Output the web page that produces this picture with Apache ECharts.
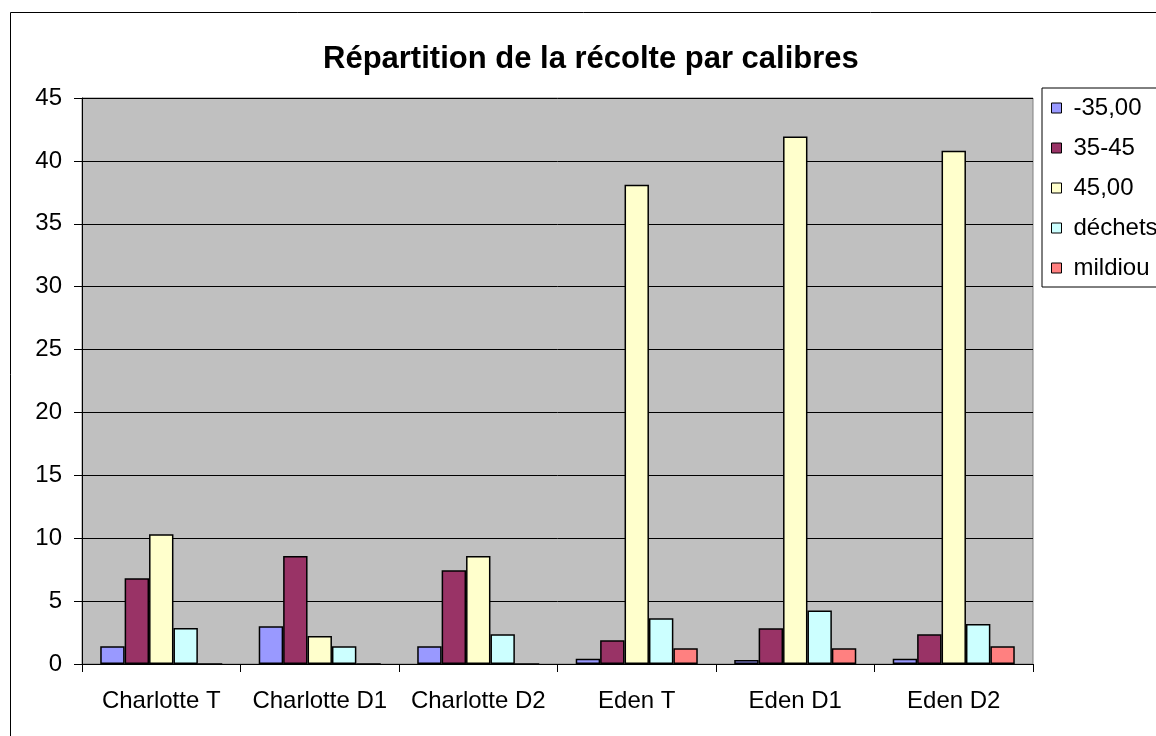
<!DOCTYPE html>
<html lang="fr">
<head>
    <meta charset="utf-8">
    <title>Répartition de la récolte par calibres</title>
    <script src="https://cdn.jsdelivr.net/npm/echarts@6/dist/echarts.min.js"></script>
    <style>
        html, body { margin: 0; padding: 0; background: #fff; }
        #main { width: 1156px; height: 736px; }
    </style>
</head>
<body>
    <div id="main"></div>
    <script>
        // donnees
        var categories = ['Charlotte T', 'Charlotte D1', 'Charlotte D2', 'Eden T', 'Eden D1', 'Eden D2'];
        var seriesNames = ['-35,00', '35-45', '45,00', 'déchets', 'mildiou'];
        var moins35 = [1.41, 3.0, 1.41, 0.42, 0.32, 0.42];
        var de35a45 = [6.82, 8.59, 7.45, 1.89, 2.84, 2.36];
        var plus45 = [10.32, 2.23, 8.59, 38.1, 41.93, 40.8];
        var dechets = [2.86, 1.41, 2.36, 3.63, 4.26, 3.18];
        var mildiou = [0, 0, 0, 1.25, 1.25, 1.41];
        var colors = ['#9999FF', '#993366', '#FFFFCC', '#CCFFFF', '#FF8080'];
        var yMin = 0, yMax = 45, yStep = 5;

        var font = 'Liberation Sans, Arial, sans-serif';
        var values = [moins35, de35a45, plus45, dechets, mildiou];
        var series = [];
        for (var i = 0; i < seriesNames.length; i++) {
            series.push({
                name: seriesNames[i],
                type: 'bar',
                data: values[i],
                barGap: '0%',
                barCategoryGap: '23%',
                itemStyle: { color: colors[i], borderColor: '#000', borderWidth: 1.5 }
            });
        }

        var chart = echarts.init(document.getElementById('main'));
        chart.setOption({
            animation: false,
            title: {
                text: 'Répartition de la récolte par calibres',
                left: 318,
                top: 39,
                textStyle: { fontFamily: font, fontSize: 31, fontWeight: 'bold', color: '#000' }
            },
            legend: {
                orient: 'vertical',
                left: 1042,
                top: 88,
                padding: [8, 60, 7, 9],
                itemGap: 16,
                itemWidth: 10,
                itemHeight: 10,
                icon: 'rect',
                borderColor: '#000',
                borderWidth: 1,
                backgroundColor: '#fff',
                itemStyle: { borderColor: '#000', borderWidth: 1 },
                textStyle: { fontFamily: font, fontSize: 24, color: '#000', padding: [0, 0, 0, 7] },
                data: seriesNames
            },
            grid: {
                left: 82, right: 123, top: 98, bottom: 72,
                show: true,
                backgroundColor: '#C0C0C0',
                borderColor: '#808080',
                borderWidth: 1
            },
            xAxis: {
                type: 'category',
                data: categories,
                axisLine: { lineStyle: { color: '#000', width: 1 } },
                axisTick: { show: true, length: 8, lineStyle: { color: '#000' } },
                axisLabel: { interval: 0, fontFamily: font, fontSize: 24, color: '#000', margin: 25 }
            },
            yAxis: {
                type: 'value',
                min: yMin, max: yMax, interval: yStep,
                axisLine: { show: true, lineStyle: { color: '#000', width: 1 } },
                axisTick: { show: true, length: 8, lineStyle: { color: '#000' } },
                axisLabel: { fontFamily: font, fontSize: 24, color: '#000', margin: 20 },
                splitLine: { lineStyle: { color: '#000', width: 1 } }
            },
            graphic: [{
                type: 'rect',
                shape: { x: 10.5, y: 12.5, width: 1300, height: 900 },
                style: { fill: 'none', stroke: '#000', lineWidth: 1 },
                silent: true,
                z: -1
            }],
            series: series
        });
    </script>
</body>
</html>
